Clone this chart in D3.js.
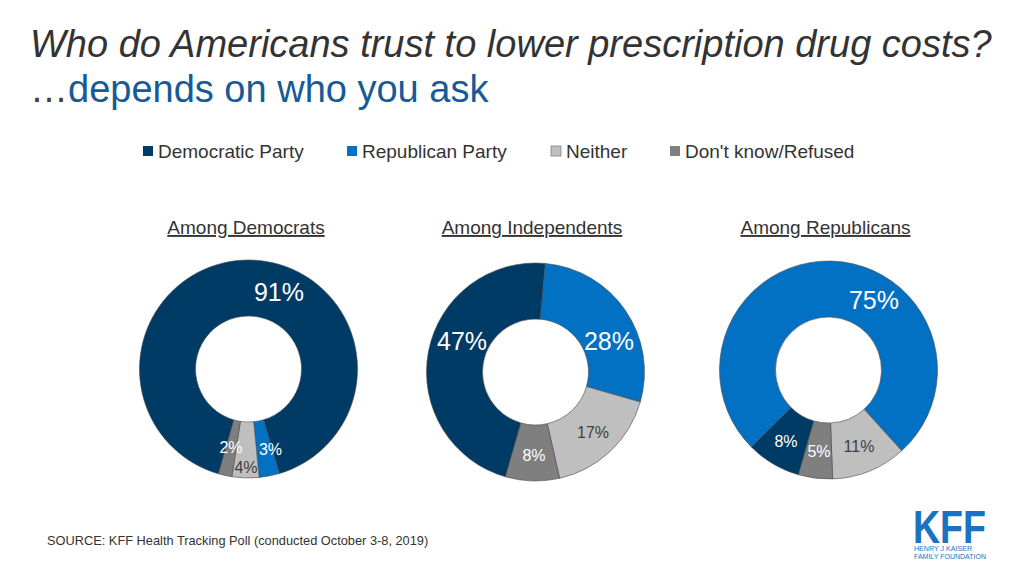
<!DOCTYPE html>
<html><head><meta charset="utf-8">
<script src="https://cdn.jsdelivr.net/npm/d3@7"></script>
<style>body{margin:0;background:#fff;} svg{display:block;font-family:"Liberation Sans",Arial,sans-serif;}</style>
</head><body>
<svg id="c" width="1024" height="576"></svg>
<script>
// ---- data ----
const seriesNames = ["Democratic Party", "Republican Party", "Neither", "Don't know/Refused"];
const groups = ["Among Democrats", "Among Independents", "Among Republicans"];
const democratsValues = [91, 3, 4, 2];
const independentsValues = [47, 28, 17, 8];
const republicansValues = [8, 75, 11, 5];
const allValues = [democratsValues, independentsValues, republicansValues];

// ---- styles / layout ----
const colors = ["#003b66", "#0271c4", "#bfbfbf", "#7f7f7f"];
const labelColors = ["#ffffff", "#ffffff", "#404040", "#ffffff"];
const centers = [[248.5, 369], [535.5, 372], [828.5, 370]];
const headingX = [246, 532, 825.5];
// label offsets from donut centre [dx, dy(baseline)] and font size
const labelLayout = [
  [[30.5, -68, 25], [22, 86, 16], [-2.5, 104, 16], [-17.5, 84, 16]],
  [[-73.5, -22, 25], [73.5, -22, 25], [57.5, 66, 16], [-1.5, 89, 16]],
  [[-42.5, 77, 16], [45.5, -61, 25], [30.5, 82, 16], [-9.5, 87, 16]]
];
const outerR = 109, innerR = 53;
const startDeg = 196;

const svg = d3.select("#c");

// title
svg.append("text").attr("x", 30).attr("y", 57)
  .attr("font-size", 38).attr("font-style", "italic").attr("fill", "#333")
  .text("Who do Americans trust to lower prescription drug costs?");
const sub = svg.append("text").attr("x", 30).attr("y", 102).attr("font-size", 38);
sub.append("tspan").attr("fill", "#404040").text("\u2026");
sub.append("tspan").attr("fill", "#165a96").text("depends on who you ask");

// legend
const legendX = [143, 347, 551, 670];
const leg = svg.append("g");
seriesNames.forEach((n, i) => {
  leg.append("rect").attr("x", legendX[i]).attr("y", 146).attr("width", 10).attr("height", 10)
    .attr("fill", colors[i]).attr("stroke", i === 2 ? "#777" : "none").attr("stroke-width", 0.7);
  leg.append("text").attr("x", legendX[i] + 15).attr("y", 158).attr("font-size", 19)
    .attr("fill", "#333").text(n);
});

// headings
groups.forEach((g, i) => {
  svg.append("text").attr("x", headingX[i]).attr("y", 234).attr("text-anchor", "middle")
    .attr("font-size", 19).attr("fill", "#333").attr("text-decoration", "underline").text(g);
});

// donuts
const arc = d3.arc().innerRadius(innerR).outerRadius(outerR);
const pie = d3.pie().sort(null).value(d => d.v)
  .startAngle(startDeg * Math.PI / 180)
  .endAngle((startDeg + 360) * Math.PI / 180);

allValues.forEach((vals, gi) => {
  const g = svg.append("g").attr("transform", `translate(${centers[gi][0]},${centers[gi][1]})`);
  const pd = pie(vals.map((v, i) => ({v, i})));
  g.selectAll("path").data(pd).join("path")
    .attr("d", arc)
    .attr("fill", d => colors[d.data.i])
    .attr("stroke", "#4a4a4a").attr("stroke-width", 0.6);
  g.selectAll("text").data(pd).join("text")
    .attr("x", d => labelLayout[gi][d.data.i][0])
    .attr("y", d => labelLayout[gi][d.data.i][1])
    .attr("font-size", d => labelLayout[gi][d.data.i][2])
    .attr("text-anchor", "middle")
    .attr("fill", d => labelColors[d.data.i])
    .text(d => d.data.v + "%");
});

// source
svg.append("text").attr("x", 47).attr("y", 545).attr("font-size", 12.8).attr("fill", "#333")
  .text("SOURCE: KFF Health Tracking Poll (conducted October 3-8, 2019)");

// logo
const logo = svg.append("g").attr("fill", "#1a73c0");
logo.append("text").attr("x", 913).attr("y", 543).attr("font-size", 46).attr("font-weight", "bold")
  .attr("textLength", 73).attr("lengthAdjust", "spacingAndGlyphs").text("KFF");
logo.append("text").attr("x", 914).attr("y", 551).attr("font-size", 8)
  .attr("textLength", 58).attr("lengthAdjust", "spacingAndGlyphs").text("HENRY J KAISER");
logo.append("text").attr("x", 914).attr("y", 559).attr("font-size", 8)
  .attr("textLength", 72).attr("lengthAdjust", "spacingAndGlyphs").text("FAMILY FOUNDATION");
</script>
</body></html>
